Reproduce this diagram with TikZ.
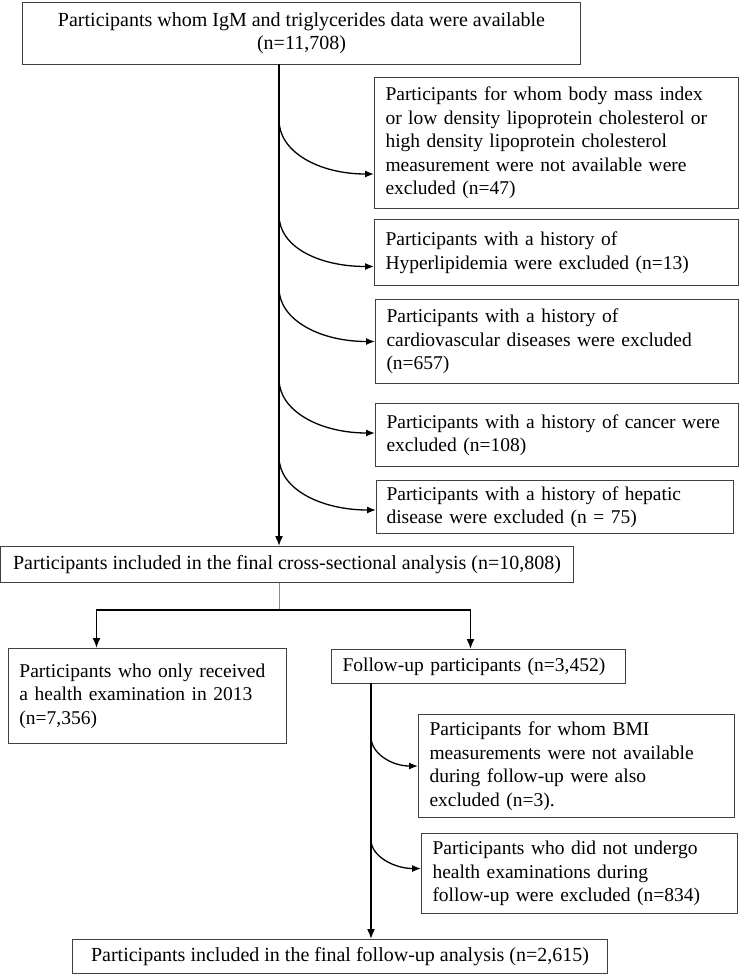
\documentclass[tikz,border=0pt]{standalone}
\usepackage{fontspec}
\setmainfont{Liberation Serif}
\usetikzlibrary{arrows.meta}

\begin{document}
\begin{tikzpicture}[
        x=1pt, y=-1pt,
        box/.style = {draw=black!75, line width=1pt, anchor=north west, inner xsep=11pt, inner ysep=0pt, align=left, font=\fontsize{19.5}{23.5}\selectfont},
        wide/.style = {box, align=center, font=\fontsize{20}{23}\selectfont},
        flow/.style = {line width=1.6pt, -{Latex[length=10pt,width=8pt]}},
        branch/.style = {line width=1.3pt, -{Latex[length=9pt,width=7pt]}}
        ]
        \useasboundingbox (0,0) rectangle (739,975);

        % top and exclusions
        \node[wide, minimum width=558, minimum height=62] (top) at (22,2) {Participants whom IgM and triglycerides data were available\\(n=11,708)};
        \node[box, text width=342, minimum height=131] (e1) at (374,77) {Participants for whom body mass index\\or low density lipoprotein cholesterol or\\high density lipoprotein cholesterol\\measurement were not available were\\excluded (n=47)};
        \node[box, text width=342, minimum height=66] (e2) at (374,219) {Participants with a history of\\Hyperlipidemia were excluded (n=13)};
        \node[box, text width=341, minimum height=84] (e3) at (375,299) {Participants with a history of\\cardiovascular diseases were excluded\\(n=657)};
        \node[box, text width=341, minimum height=63] (e4) at (375,403) {Participants with a history of cancer were\\excluded (n=108)};
        \node[box, text width=337, minimum height=53, inner xsep=10pt] (e5) at (376,480) {Participants with a history of hepatic\\disease were excluded (n = 75)};
        \node[wide, minimum width=573, minimum height=36] (cross) at (0,546) {Participants included in the final cross-sectional analysis (n=10,808)};

        % follow-up part
        \node[box, text width=256, minimum height=95] (only) at (8,648) {Participants who only received\\a health examination in 2013\\(n=7,356)};
        \node[box, text width=272, minimum height=34] (fu) at (331,649) {Follow-up participants (n=3,452)};
        \node[box, text width=294, minimum height=103] (f1) at (418,714) {Participants for whom BMI\\measurements were not available\\during follow-up were also\\excluded (n=3).};
        \node[box, text width=294, minimum height=80] (f2) at (421,833) {Participants who did not undergo\\health examinations during\\follow-up were excluded (n=834)};
        \node[wide, minimum width=535, minimum height=34] (final) at (72,939) {Participants included in the final follow-up analysis (n=2,615)};

        \coordinate (t1) at (279,64);
        \coordinate (b1) at (279,120);
        \coordinate (b2) at (279,215);
        \coordinate (b3) at (279,288);
        \coordinate (b4) at (279,379);
        \coordinate (b5) at (279,457);
        \coordinate (split) at (279,610);
        \coordinate (t2) at (371,683);
        \coordinate (c1) at (371,737);
        \coordinate (c2) at (371,840);

        \draw[flow] (t1) -- (t1 |- cross.north);
        \draw[branch] (b1) .. controls +(0,32) and +(-55,0) .. ([yshift=-31pt]e1.west);
        \draw[branch] (b2) .. controls +(0,32) and +(-55,0) .. ([yshift=-14pt]e2.west);
        \draw[branch] (b3) .. controls +(0,32) and +(-55,0) .. (e3.west);
        \draw[branch] (b4) .. controls +(0,32) and +(-55,0) .. ([yshift=2pt]e4.west);
        \draw[branch] (b5) .. controls +(0,32) and +(-55,0) .. ([yshift=-3pt]e5.west);

        \draw[line width=0.8pt, black!45] (cross.south -| split) -- (split);
        \draw[flow] (split) -| ([xshift=-51pt]only.north);
        \draw[flow] (split) -| ([xshift=-8pt]fu.north);

        \draw[flow] (t2) -- (t2 |- final.north);
        \draw[branch] (c1) .. controls +(0,16) and +(-27,0) .. (f1.west);
        \draw[branch] (c2) .. controls +(0,16) and +(-27,0) .. ([yshift=5pt]f2.west);

    \end{tikzpicture}
\end{document}
